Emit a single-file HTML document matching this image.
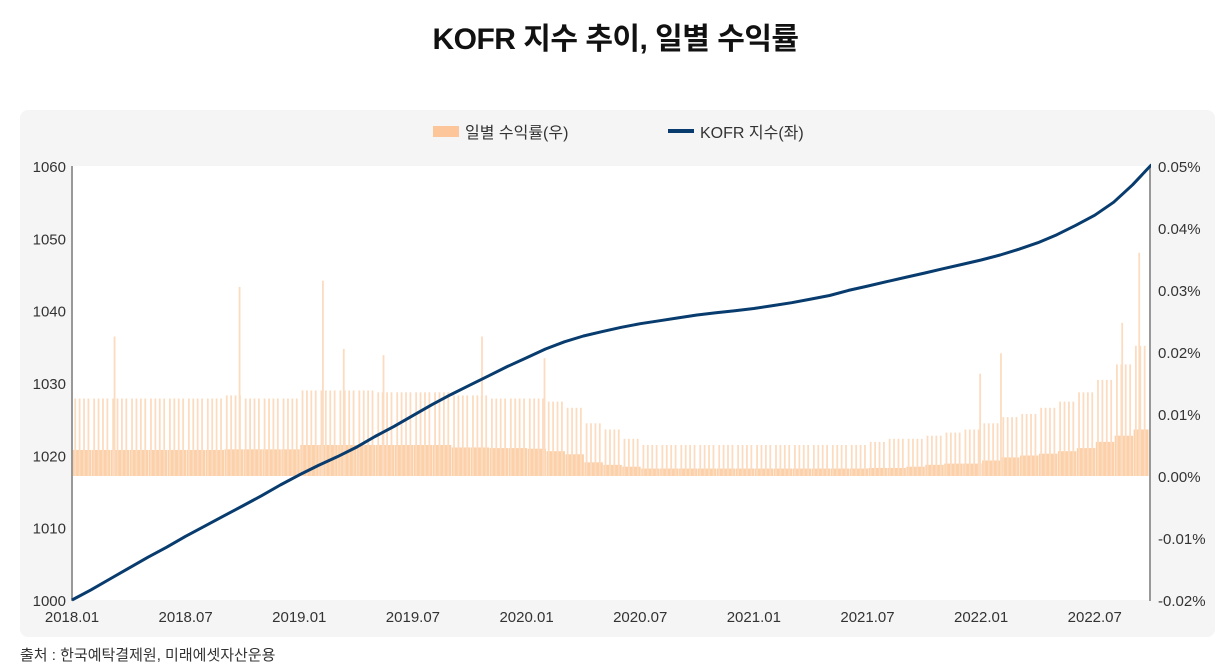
<!DOCTYPE html>
<html><head><meta charset="utf-8">
<style>
body{margin:0;width:1231px;height:671px;background:#fff;font-family:"Liberation Sans","Noto Sans CJK KR",sans-serif;overflow:hidden;position:relative}
#title{position:absolute;top:14px;left:0;width:1231px;text-align:center;font-size:30px;font-weight:bold;color:#111;letter-spacing:-0.5px}
#panel{position:absolute;left:20px;top:110px;width:1195px;height:527px;background:#f5f5f5;border-radius:8px}
#src{position:absolute;left:20px;top:644px;font-size:15px;color:#333}
svg{position:absolute;left:0;top:0}
</style></head><body>
<div id="title">KOFR 지수 추이, 일별 수익률</div>
<div id="panel"></div>
<div id="src">출처 : 한국예탁결제원, 미래에셋자산운용</div>
<svg id="chart" width="1231" height="671"></svg>
<script>
const xTicks=["2018.01","2018.07","2019.01","2019.07","2020.01","2020.07","2021.01","2021.07","2022.01","2022.07"];
const leftTicks=[1000,1010,1020,1030,1040,1050,1060];
const rightTicks=[-0.02,-0.01,0,0.01,0.02,0.03,0.04,0.05];
const kofr=[1000,1001.4,1002.9,1004.4,1005.9,1007.3,1008.8,1010.2,1011.6,1013.0,1014.4,1015.9,
1017.3,1018.6,1019.8,1021.1,1022.6,1024.0,1025.5,1027.0,1028.4,1029.7,1031.0,1032.3,
1033.5,1034.7,1035.7,1036.5,1037.1,1037.7,1038.2,1038.6,1039.0,1039.4,1039.7,1040.0,
1040.3,1040.7,1041.1,1041.6,1042.1,1042.8,1043.4,1044.0,1044.6,1045.2,1045.8,1046.4,
1047.0,1047.7,1048.5,1049.4,1050.5,1051.8,1053.2,1055.0,1057.4,1060.2];
const baseRet=[.0042,.0042,.0042,.0042,.0042,.0042,.0042,.0042,.0043,.0043,.0043,.0043,
.005,.005,.005,.005,.005,.005,.005,.005,.0046,.0046,.0045,.0045,
.0044,.004,.0035,.0022,.0018,.0015,.0012,.0012,.0012,.0012,.0012,.0012,
.0012,.0012,.0012,.0012,.0012,.0012,.0013,.0013,.0015,.0018,.002,.002,
.0025,.003,.0033,.0036,.004,.0045,.0055,.0065,.0075];
const peakRet=[.0125,.0125,.0125,.0125,.0125,.0125,.0125,.0125,.013,.0125,.0125,.0125,
.0138,.0138,.0138,.0138,.0135,.0135,.0135,.0135,.013,.013,.0125,.0125,
.0125,.012,.011,.0085,.0075,.006,.005,.005,.005,.005,.005,.005,
.005,.005,.005,.005,.005,.005,.0055,.006,.006,.0065,.007,.0075,
.0085,.0095,.010,.011,.012,.0135,.0155,.018,.021];
const outIdx=[2.2,8.8,13.2,14.3,16.4,21.6,24.9,47.9,49.0,55.4,56.3];
const outVal=[.0225,.0305,.0315,.0205,.0195,.0225,.019,.0165,.0198,.0247,.036];
const NS='http://www.w3.org/2000/svg';
const svg=document.getElementById('chart');
const X0=72,X1=1150,MW=18.94;
const x=i=>X0+i*MW;
const yL=v=>600-(v-1000)*(434/60);
const yR=p=>476-p*6200;
function mk(t,a){const e=document.createElementNS(NS,t);for(const k in a)e.setAttribute(k,a[k]);svg.appendChild(e);return e;}
const defs=mk('defs',{});
const cp=document.createElementNS(NS,'clipPath');cp.setAttribute('id','clip');defs.appendChild(cp);
const cr=document.createElementNS(NS,'rect');cr.setAttribute('x',X0-2);cr.setAttribute('y',150);cr.setAttribute('width',X1-X0+3);cr.setAttribute('height',460);cp.appendChild(cr);
let r=mk('rect',{x:X0,y:166,width:X1-X0,height:434,fill:'#fff'});


const g=document.createElementNS(NS,'g');svg.appendChild(g);
g.setAttribute('clip-path','url(#clip)');


for(let i=0;i<baseRet.length;i++){
  const x0=x(i)+1,w=Math.min(MW,X1-x0-1);
  if(w<=0)continue;
  const b=document.createElementNS(NS,'rect');
  b.setAttribute('x',x0);b.setAttribute('y',yR(baseRet[i]));b.setAttribute('width',w-0.5);b.setAttribute('height',476-yR(baseRet[i]));b.setAttribute('fill','#fcd0a8');
  
  
  g.appendChild(b);
  for(let k=0;k<4;k++){
    const sx=x0+(k+0.3)*MW/4.3;if(sx>X1-2)continue;
    const s=document.createElementNS(NS,'rect');
    s.setAttribute('x',sx);s.setAttribute('y',yR(peakRet[i]));s.setAttribute('width',1.8);s.setAttribute('height',476-yR(peakRet[i]));s.setAttribute('fill','#fcdcc0');
    
    
    g.appendChild(s);
  }
}
for(let j=0;j<outIdx.length;j++){
  const s=document.createElementNS(NS,'rect');
  s.setAttribute('x',x(outIdx[j]));s.setAttribute('y',yR(outVal[j]));s.setAttribute('width',1.8);s.setAttribute('height',476-yR(outVal[j]));s.setAttribute('fill','#fcdcc0');
  
  
  g.appendChild(s);
}
let a=mk('line',{x1:X0,y1:166,x2:X0,y2:601,stroke:'#999','stroke-width':2});

a=mk('line',{x1:X1,y1:166,x2:X1,y2:601,stroke:'#999','stroke-width':2});

leftTicks.forEach(v=>{const t=mk('text',{x:66,y:yL(v)+6,'text-anchor':'end','font-size':15,fill:'#333'});t.textContent=v;
});
rightTicks.forEach(v=>{const t=mk('text',{x:1158,y:yR(v)+6,'font-size':15,fill:'#333'});t.textContent=v.toFixed(2)+'%';
});
xTicks.forEach((l,i)=>{const t=mk('text',{x:x(i*6),y:622,'text-anchor':'middle','font-size':15,fill:'#333'});t.textContent=l;
});
let d='';kofr.forEach((v,i)=>{d+=(i?'L':'M')+x(i).toFixed(1)+','+yL(v).toFixed(1);});
const p=mk('path',{d:d,fill:'none',stroke:'#083c6e','stroke-width':3,'stroke-linejoin':'round','clip-path':'url(#clip)'});

let l=mk('rect',{x:433,y:126,width:26,height:11,fill:'#fcc59a'});

l=mk('text',{x:465,y:138,'font-size':16,fill:'#333'});l.textContent='일별 수익률(우)';

l=mk('rect',{x:668,y:129,width:26,height:4,fill:'#083c6e'});

l=mk('text',{x:700,y:138,'font-size':16,fill:'#333'});l.textContent='KOFR 지수(좌)';

</script>
</body></html>
